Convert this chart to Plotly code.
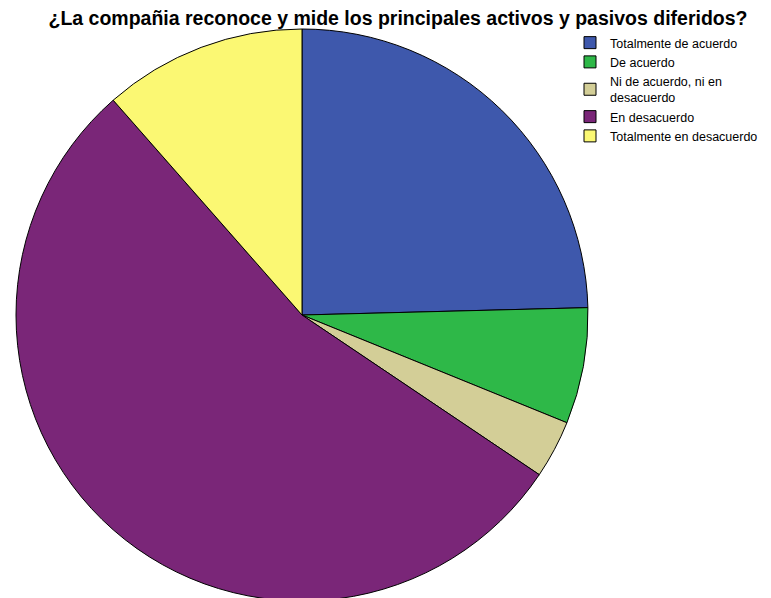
import plotly.graph_objects as go

categories = ["Totalmente de acuerdo", "De acuerdo", "Ni de acuerdo, ni en<br>desacuerdo",
              "En desacuerdo", "Totalmente en desacuerdo"]
counts = [15, 4, 2, 33, 7]
colors = ["#3E58AC", "#2EB848", "#D3CE97", "#7A2678", "#FBF873"]

W, H = 771, 598
# page has an 8px body margin, so figure coords are shifted by -8
cx, cy, r = 294, 307, 286

fig = go.Figure(go.Pie(
    labels=categories,
    values=counts,
    sort=False,
    direction="clockwise",
    rotation=0,
    textinfo="none",
    hoverinfo="label+value",
    marker=dict(colors=colors, line=dict(color="black", width=1)),
    domain=dict(x=[(cx - r) / W, (cx + r) / W], y=[(H - cy - r) / H, (H - cy + r) / H]),
))

fig.update_layout(
    width=W, height=H,
    margin=dict(l=0, r=0, t=0, b=0),
    paper_bgcolor="white",
    title=dict(text="<b>¿La compañia reconoce y mide los principales activos y pasivos diferidos?</b>",
               x=390 / W, xanchor="center", y=1 - 3 / H, yanchor="top",
               font=dict(family="Liberation Sans, Arial", size=19.5, color="black")),
    legend=dict(x=562 / W, y=1 - 20 / H, xanchor="left", yanchor="top",
                font=dict(family="Liberation Sans, Arial", size=12.5, color="black"),
                itemwidth=30, tracegroupgap=0, bgcolor="rgba(0,0,0,0)"),
    showlegend=True,
)

fig.write_html("out.html")
